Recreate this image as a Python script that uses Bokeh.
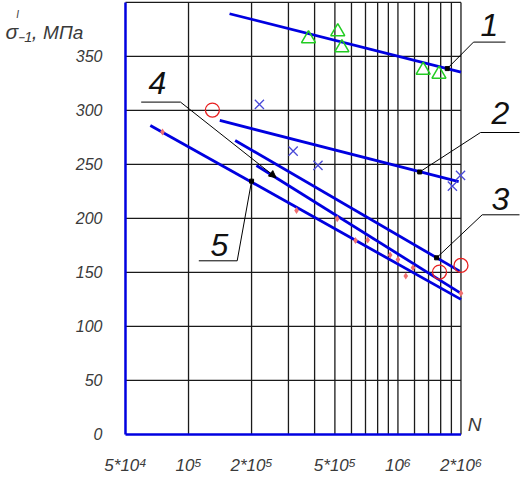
from bokeh.plotting import figure
from bokeh.models import Range1d, FixedTicker, Label, Arrow, NormalHead
from bokeh.embed import file_html
from bokeh.resources import INLINE

# ---------------- data ----------------
# fatigue curves: start / end points (N cycles, sigma MPa)
curve_id = ["1", "2", "3", "4", "5"]
curve_n_start = [1.57e5, 1.41e5, 1.67e5, 2.11e5, 6.57e4]
curve_s_start = [389.5, 290.7, 272.2, 249.0, 286.1]
curve_n_end = [2.0e6, 1.95e6, 1.97e6, 2.0e6, 2.0e6]
curve_s_end = [335.5, 234.0, 151.2, 130.6, 125.0]

# experimental points
tri_n = [3.74e5, 5.16e5, 5.40e5, 1.32e6, 1.57e6]
tri_s = [366.4, 372.9, 358.1, 337.3, 333.6]
cross_n = [2.18e5, 3.16e5, 4.15e5, 1.82e6, 1.99e6]
cross_s = [305.6, 262.3, 249.1, 229.9, 239.8]
circ_n = [1.30e5, 1.58e6, 2.0e6]
circ_s = [300.3, 150.3, 156.5]
dot_n = [7.51e4, 3.28e5, 5.13e5, 6.27e5, 7.17e5, 9.18e5, 1.0e6, 1.09e6, 1.18e6, 2.0e6]
dot_s = [279.9, 207.4, 199.7, 179.6, 179.9, 166.0, 162.0, 146.6, 154.3, 130.6]

# leader anchor points on the curves
lead_n = [1.72e6, 1.27e6, 1.53e6, 2.62e5, 2.0e5]
lead_s = [338.7, 243.0, 163.5, 237.7, 234.5]

# grid / ticks
grid_n = [1e5, 2e5, 3e5, 4e5, 5e5, 6e5, 7e5, 8e5, 9e5, 1e6, 1.2e6, 1.4e6, 1.6e6, 1.8e6, 2e6]
grid_s = [50, 100, 150, 200, 250, 300, 350, 400]
n_min, n_max = 5e4, 2e6
s_min, s_max = 0, 400
x_ticks = [5e4, 1e5, 2e5, 5e5, 1e6, 2e6]
x_tick_labels = ["5*10⁴", "10⁵", "2*10⁵", "5*10⁵", "10⁶", "2*10⁶"]
y_ticks = [0, 50, 100, 150, 200, 250, 300, 350]

# ---------------- layout ----------------
FONT = "Liberation Sans Narrow, Liberation Sans"
BLUE = "#0000e0"
TXT = "#3a3a3a"
W, H = 522, 478
px_per_dec = 211.0
frame_left = 120          # canvas px
right_border = 3          # room taken by the small "I" label in the right panel
frame_w = W - frame_left - right_border
bottom_border = 40
frame_h = H - bottom_border
px_per_unit = 1.08
y_hi = s_max + 1.9 / px_per_unit
y_lo = y_hi - frame_h / px_per_unit
x_start = n_min / 10 ** (2 / px_per_dec)
x_end = x_start * 10 ** (frame_w / px_per_dec)


def win_to_data(wx, wy):
    """window pixel -> data coordinates (for text placed outside the frame)"""
    cx, cy = wx - 8, wy - 8
    return (x_start * 10 ** ((cx - frame_left) / px_per_dec),
            y_hi - cy / px_per_unit)


def win_to_screen(wx, wy):
    """window pixel -> frame-relative screen units"""
    return wx - 8 - frame_left, 8 + frame_h - wy


p = figure(width=W, height=H, x_axis_type="log",
           x_range=Range1d(x_start, x_end), y_range=Range1d(y_lo, y_hi),
           output_backend="svg", toolbar_location=None,
           min_border_left=frame_left, min_border_right=0, min_border_top=0,
           min_border_bottom=bottom_border)
p.outline_line_color = None
p.grid.visible = False

for ax in (p.xaxis, p.yaxis):
    ax.axis_line_color = None
    ax.major_tick_line_color = None
    ax.minor_tick_line_color = None
    ax.major_tick_out = 0
    ax.major_tick_in = 0
    ax.minor_tick_out = 0
    ax.minor_tick_in = 0
    ax.major_label_text_font = FONT
    ax.major_label_text_font_style = "italic"
    ax.major_label_text_color = TXT

p.xaxis.ticker = FixedTicker(ticks=x_ticks)
p.xaxis.major_label_overrides = {t: l for t, l in zip(x_ticks, x_tick_labels)}
p.xaxis.major_label_text_font_size = "17px"
p.xaxis.major_label_standoff = 17

p.yaxis.ticker = FixedTicker(ticks=y_ticks)
p.yaxis.major_label_text_font_size = "16px"
p.yaxis.major_label_standoff = 21

# grid
p.segment(x0=grid_n, y0=[s_min] * len(grid_n), x1=grid_n, y1=[s_max] * len(grid_n),
          line_color="#1a1a1a", line_width=1.3)
p.segment(x0=[n_min] * len(grid_s), y0=grid_s, x1=[n_max] * len(grid_s), y1=grid_s,
          line_color="#1a1a1a", line_width=1.3)
# blue axes
p.segment(x0=[n_min, n_min], y0=[s_min, s_min], x1=[n_min, n_max], y1=[s_max, s_min],
          line_color=BLUE, line_width=2.5)

# curves
p.segment(x0=curve_n_start, y0=curve_s_start, x1=curve_n_end, y1=curve_s_end,
          line_color=BLUE, line_width=2.8)

# points
p.scatter(tri_n, tri_s, marker="triangle", size=14, fill_color=None,
          line_color="#22cc22", line_width=1.5)
p.scatter(cross_n, cross_s, marker="x", size=13, line_color="#4a4ad8", line_width=1.3)
p.scatter(circ_n, circ_s, marker="circle", size=14, fill_color=None,
          line_color="#e82020", line_width=1.3)
p.scatter(dot_n, dot_s, marker="diamond", size=7, fill_color="#f07070", line_color=None)

# leaders: label / elbow positions in window pixels
elbow_wx = [478, 485, 486.7, 185, 241.7]
elbow_wy = [49.6, 140, 222.3, 109.6, 268.3]
under_wx0 = [478, 485, 486.7, 145.7, 203.3]
under_wx1 = [510, 527, 525, 185, 241.7]
digit_wx = [494, 505, 505, 162, 224]
digit_wy = [32.3, 120.8, 206.3, 90.8, 252.3]
for i in range(5):
    ex, ey = win_to_screen(elbow_wx[i], elbow_wy[i])
    ux0, _ = win_to_screen(under_wx0[i], 0)
    ux1, _ = win_to_screen(under_wx1[i], 0)
    dx, dy = win_to_screen(digit_wx[i], digit_wy[i])
    head = NormalHead(size=7, fill_color="black", line_color="black") if i == 3 else None
    p.add_layout(Arrow(x_start=ex, y_start=ey, start_units="screen",
                       x_end=lead_n[i], y_end=lead_s[i], end_units="data", end=head,
                       line_color="black", line_width=1))
    p.add_layout(Arrow(x_start=ux0, y_start=ey, start_units="screen",
                       x_end=ux1, y_end=ey, end_units="screen", end=None,
                       line_color="black", line_width=1))
    p.add_layout(Label(x=dx, y=dy, x_units="screen", y_units="screen",
                       text=curve_id[i], text_font=FONT, text_font_size="32px",
                       text_font_style="italic", text_align="center",
                       text_baseline="middle", text_color="#111111"))
p.scatter([lead_n[k] for k in (0, 1, 2, 4)], [lead_s[k] for k in (0, 1, 2, 4)],
          marker="square", size=4, color="black")

# x axis name
nx, ny = win_to_screen(479, 432)
p.add_layout(Label(x=nx, y=ny, x_units="screen", y_units="screen", text="N",
                   text_font=FONT, text_font_size="19px", text_font_style="italic",
                   text_align="center", text_baseline="middle", text_color=TXT))

# y axis name (side panels are not clipped to the frame)
title_parts = [("σ₋₁,", 9, 39, "21px", "left"), ("МПа", 47, 40, "19px", "left"),
               ("I", 20, 22, "10px", "right")]
for txt, wx, wy, fs, side in title_parts:
    tx, ty = win_to_data(wx, wy)
    p.add_layout(Label(x=tx, y=ty, text=txt, text_font=FONT, text_font_size=fs,
                       text_font_style="italic", text_align="left",
                       text_baseline="alphabetic", text_color=TXT), side)

open("out.html", "w").write(file_html(p, INLINE))
